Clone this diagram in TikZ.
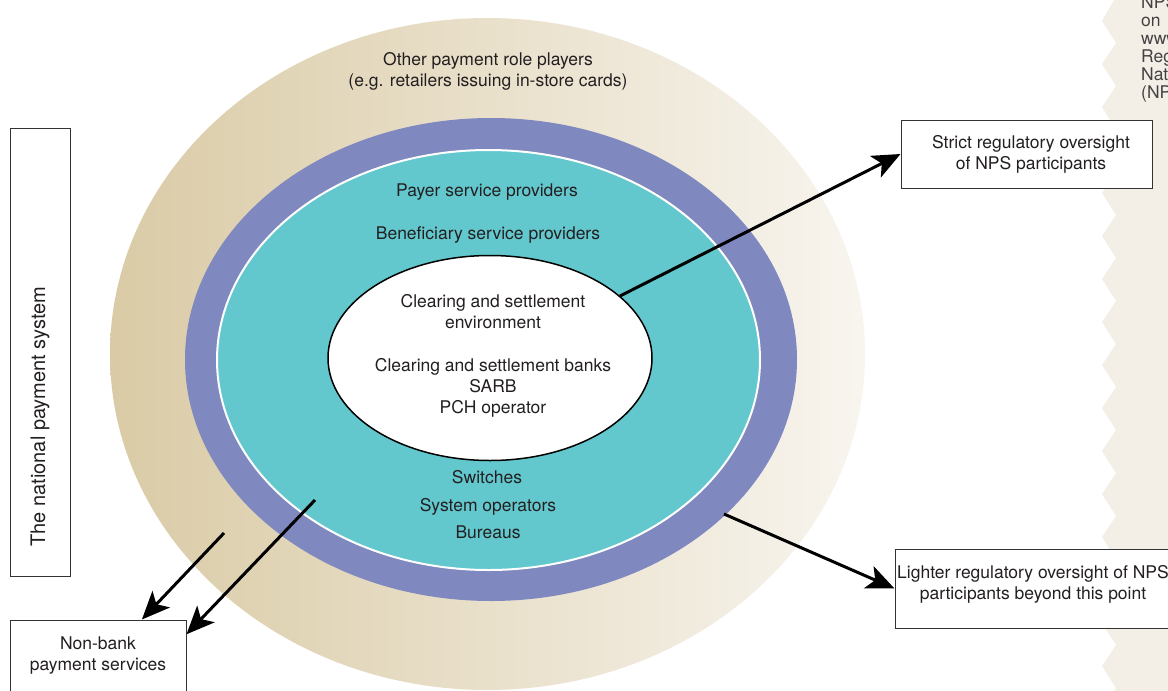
\documentclass[tikz,border=0pt]{standalone}
\usepackage{fontspec}
\setmainfont{TeX Gyre Heros}
\usetikzlibrary{arrows.meta}
\definecolor{tanleft}{RGB}{218,203,166}
\definecolor{tanright}{RGB}{248,245,239}
\definecolor{ringblue}{RGB}{128,136,192}
\definecolor{coreteal}{RGB}{99,200,206}
\definecolor{paper}{RGB}{243,239,231}
\definecolor{ink}{RGB}{35,31,32}

\begin{document}
\begin{tikzpicture}
		[x=1pt,y=-1pt,
		lbl/.style={font=\fontsize{17.5}{21}\selectfont,text=ink,align=center,inner sep=0pt},
		frame/.style={draw=black!80,line width=1pt,fill=white,inner sep=0pt},
		bigarrow/.style={line width=3pt,-{Stealth[length=28pt,width=24pt,inset=7pt]}}]
		\useasboundingbox (0,0) rectangle (1168,691);
		\clip (0,0) rectangle (1168,691);
		\fill[white] (0,0) rectangle (1168,691);

		% torn page at the right edge
		\fill[paper] (1168,0) -- (1114,0)
			\foreach \k in {0,...,16} { -- (1102,43*\k+21) -- (1116,43*\k+43) }
			-- (1168,740) -- cycle;
		\foreach \w [count=\i] in {NPS,on,www,Regulation,National,(NPS)}
			\node[lbl,anchor=base west,text=ink!85] (note\i) at (1141,18*\i-10) {\w};

		% the rings
		\shade[left color=tanleft,right color=tanright] (487.5,354) ellipse (377.5 and 336);
		\fill[ringblue] (491,359.5) ellipse (306 and 241.5);
		\filldraw[fill=coreteal,draw=white,line width=2pt] (488.5,360) ellipse (271.5 and 210);
		\filldraw[fill=white,draw=black,line width=1.5pt] (490,358) ellipse (162 and 102.5);

		\node[lbl] (others) at (488,71) {Other payment role players\\(e.g. retailers issuing in-store cards)};
		\node[lbl,anchor=base] (payer) at (487,196.5) {Payer service providers};
		\node[lbl,anchor=base] (benef) at (488,239.5) {Beneficiary service providers};
		\node[lbl] (core) at (493,356) {Clearing and settlement\\environment\\[22pt]Clearing and settlement banks\\SARB\\PCH operator};
		\node[lbl,anchor=base] (switch) at (487,483.5) {Switches};
		\node[lbl,anchor=base] (sysop) at (488,511.5) {System operators};
		\node[lbl,anchor=base] (bureau) at (488,538.5) {Bureaus};

		% boxes
		\node[frame,minimum width=60pt,minimum height=448pt] (nps) at (40,352) {};
		\node[lbl,rotate=90,font=\fontsize{20}{24}\selectfont] (npstxt) at (40,416.5) {The national payment system};
		\node[frame,minimum width=251pt,minimum height=68pt] (strict) at (1026.5,154) {};
		\node[lbl] (stricttxt) at (1031,154.5) {Strict regulatory oversight\\of NPS participants};
		\node[frame,minimum width=300pt,minimum height=79pt] (light) at (1045,588.5) {};
		\node[lbl] (lighttxt) at (1033,584.5) {Lighter regulatory oversight of NPS\\participants beyond this point};
		\node[frame,minimum width=176pt,minimum height=100pt] (nonbank) at (98,670) {};
		\node[lbl] (nonbanktxt) at (98,656) {Non-bank\\payment services};

		% arrows
		\coordinate (fromcore) at (620,296);
		\coordinate (fromring) at (724,514);
		\coordinate (fromtan) at (224,533);
		\coordinate (fromteal) at (315,500);
		\draw[bigarrow] (fromcore) -- (strict.west);
		\draw[bigarrow] (fromring) -- (light.west);
		\draw[bigarrow] (fromtan) -- (nonbank.49);
		\draw[bigarrow] (fromteal) -- (nonbank.22);

	\end{tikzpicture}
\end{document}
